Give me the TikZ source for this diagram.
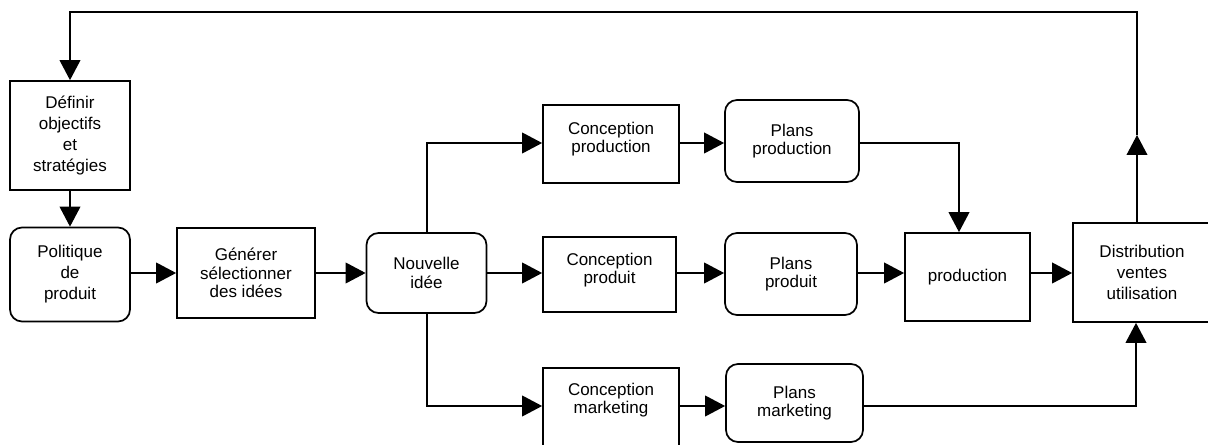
\documentclass[tikz,border=0pt]{standalone}
\usepackage{fontspec}
\setmainfont{Liberation Sans}
\usetikzlibrary{arrows.meta}
\begin{document}
\begin{tikzpicture}[x=0.75pt,y=-0.75pt,
  line width=1.3pt,
  every node/.style={font=\fontsize{12.75pt}{14pt}\selectfont, align=center},
  wide/.style={font=\fontsize{12.75pt}{15.8pt}\selectfont},
  box/.style={draw, rectangle, inner sep=0pt},
  rbox/.style={draw, rectangle, rounded corners=9pt, inner sep=0pt},
  lbl/.style={inner sep=0pt},
  arr/.style={-{Triangle[length=15pt,width=15.5pt]}},
]
\useasboundingbox (0,0) rectangle (1208,445);
\clip (0,0) rectangle (1208,445);
% rows
\coordinate (rowA) at (0,143);
\coordinate (rowB) at (0,273);
\coordinate (rowC) at (0,406);
% nodes
\node[box, wide, minimum width=90pt, minimum height=81.75pt] (def) at (70,135.5) {Définir\\objectifs\\et\\stratégies};
\node[rbox, wide, minimum width=90pt, minimum height=70.5pt] (pol) at (70,274.5) {Politique\\de\\produit};
\node[box, minimum width=103.5pt, minimum height=67.5pt] (gen) at (246,273) {Générer\\sélectionner\\des idées};
\node[rbox, minimum width=90pt, minimum height=60pt] (nou) at (426.5,273) {Nouvelle\\idée};
\node[box, minimum width=102pt, minimum height=58.5pt] (cpn) at (611,144) {};
\node[lbl] (cpn-t) at (611,139) {Conception\\production};
\node[box, minimum width=99.75pt, minimum height=56.25pt] (cpd) at (609.5,274.5) {};
\node[lbl] (cpd-t) at (609.5,270) {Conception\\produit};
\node[box, minimum width=102pt, minimum height=67.5pt] (cmk) at (611,413) {};
\node[lbl] (cmk-t) at (611,400) {Conception\\marketing};
\node[rbox, minimum width=100.5pt, minimum height=61.5pt] (ppn) at (792,141) {Plans\\production};
\node[rbox, minimum width=99pt, minimum height=61.5pt] (ppd) at (791,274) {Plans\\produit};
\node[rbox, minimum width=102.75pt, minimum height=58.5pt] (pmk) at (794.5,403) {Plans\\marketing};
\node[box, minimum width=93.75pt, minimum height=66pt] (prod) at (967.5,277) {production};
\node[box, wide, minimum width=103.5pt, minimum height=74.25pt] (dist) at (1142,272.5) {Distribution\\ventes\\utilisation};
% helper coordinates
\coordinate (fbx) at (1137,135);
\coordinate (ftop) at (1137,12);
\coordinate (ftopl) at (70,12);
\coordinate (brN) at (427,143);
\coordinate (brS) at (427,406);
\coordinate (ppnR) at (959,143);
\coordinate (pmkR) at (1136,406);
% connectors
\draw[arr] (dist.north -| fbx) -- (fbx);
\draw[arr] (fbx) -- (ftop) -- (ftopl) -- (def.north);
\draw[arr] (def.south) -- (pol.north);
\draw[arr] (pol.east |- rowB) -- (gen.west |- rowB);
\draw[arr] (gen.east |- rowB) -- (nou.west |- rowB);
\draw[arr] (nou.north -| brN) -- (brN) -- (cpn.west |- rowA);
\draw[arr] (nou.east |- rowB) -- (cpd.west |- rowB);
\draw[arr] (nou.south -| brS) -- (brS) -- (cmk.west |- rowC);
\draw[arr] (cpn.east |- rowA) -- (ppn.west |- rowA);
\draw[arr] (cpd.east |- rowB) -- (ppd.west |- rowB);
\draw[arr] (cmk.east |- rowC) -- (pmk.west |- rowC);
\draw[arr] (ppn.east |- rowA) -- (ppnR) -- (prod.north -| ppnR);
\draw[arr] (ppd.east |- rowB) -- (prod.west |- rowB);
\draw[arr] (prod.east |- rowB) -- (dist.west |- rowB);
\draw[arr] (pmk.east |- rowC) -- (pmkR) -- (dist.south -| pmkR);
\end{tikzpicture}
\end{document}
